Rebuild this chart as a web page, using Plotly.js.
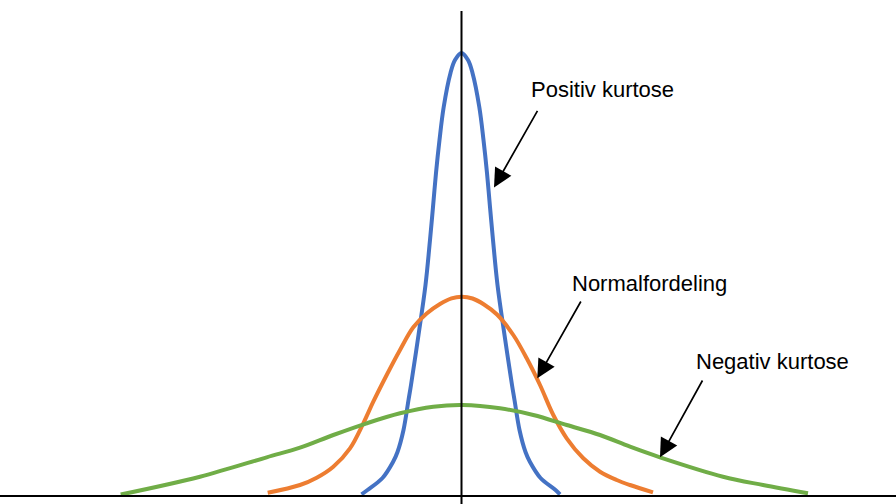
<!DOCTYPE html>
<html>
<head>
<meta charset="utf-8">
<script src="https://cdn.plot.ly/plotly-3.0.1.min.js"></script>
<style>
  html, body { margin: 0; padding: 0; background: #ffffff; }
  #chart { width: 896px; height: 504px; }
</style>
</head>
<body>
<div id="chart"></div>
<script>
// Positiv kurtose (blue)
var blueX = [-1.00, -0.94, -0.79, -0.685, -0.64, -0.58, -0.53, -0.505, -0.43, -0.36, -0.315, -0.285, -0.255, -0.22, -0.178, -0.11, -0.065, 0,
             0.065, 0.11, 0.178, 0.22, 0.255, 0.285, 0.315, 0.36, 0.43, 0.505, 0.53, 0.58, 0.64, 0.685, 0.79, 0.94, 0.985];
var blueY = [0.002, 0.045, 0.165, 0.325, 0.425, 0.645, 0.945, 1.095, 1.595, 2.095, 2.545, 2.875, 3.215, 3.545, 3.875, 4.215, 4.345, 4.415,
             4.345, 4.215, 3.875, 3.545, 3.215, 2.875, 2.545, 2.095, 1.595, 1.095, 0.945, 0.645, 0.425, 0.325, 0.165, 0.045, 0.002];

// Normalfordeling (orange)
var orangeX = [-1.938, -1.615, -1.448, -1.282, -1.115, -0.982, -0.882, -0.748, -0.615, -0.482, -0.348, -0.215, -0.10, 0.005,
               0.11, 0.225, 0.355, 0.518, 0.652, 0.785, 0.918, 1.052, 1.218, 1.385, 1.552, 1.685, 1.915];
var orangeY = [0.018, 0.095, 0.168, 0.278, 0.462, 0.712, 0.928, 1.195, 1.445, 1.672, 1.810, 1.905, 1.962, 1.978,
               1.960, 1.900, 1.800, 1.595, 1.362, 1.095, 0.795, 0.562, 0.362, 0.228, 0.145, 0.095, 0.022];

// Negativ kurtose (green)
var greenX = [-3.408, -2.615, -1.948, -1.615, -1.282, -0.948, -0.615, -0.282, 0.012,
              0.385, 0.718, 1.052, 1.385, 1.685, 1.985, 2.615, 3.015, 3.465];
var greenY = [0.0, 0.178, 0.372, 0.468, 0.595, 0.712, 0.812, 0.878, 0.895,
              0.862, 0.795, 0.695, 0.595, 0.478, 0.372, 0.178, 0.095, 0.012];

var labels = ["Positiv kurtose", "Normalfordeling", "Negativ kurtose"];

var font = {family: "Liberation Sans, Arial, Helvetica, sans-serif", size: 22, color: "#000000"};

var traces = [
  {x: blueX, y: blueY, mode: "lines", line: {color: "#4472C4", width: 4, shape: "spline", smoothing: 1}, hoverinfo: "skip"},
  {x: orangeX, y: orangeY, mode: "lines", line: {color: "#ED7D31", width: 4, shape: "spline", smoothing: 1}, hoverinfo: "skip"},
  {x: greenX, y: greenY, mode: "lines", line: {color: "#70AD47", width: 4, shape: "spline", smoothing: 1}, hoverinfo: "skip"}
];

function arrow(tx, ty, hx, hy) {
  return {x: hx, y: hy, ax: tx, ay: ty, xref: "x", yref: "y", axref: "x", ayref: "y",
          text: "", showarrow: true, arrowhead: 2, arrowsize: 2.2, arrowwidth: 1.7, arrowcolor: "#000000"};
}
function label(t, x, y) {
  return {x: x, y: y, xref: "x", yref: "y", text: t, showarrow: false,
          xanchor: "left", yanchor: "middle", font: font};
}

var layout = {
  width: 896, height: 504,
  margin: {l: 0, r: 0, t: 0, b: 0},
  paper_bgcolor: "#ffffff", plot_bgcolor: "#ffffff",
  showlegend: false,
  xaxis: {range: [-4.615, 4.345], showgrid: false, zeroline: false, showticklabels: false, showline: false, ticks: "", fixedrange: true},
  yaxis: {range: [-0.095, 4.945], showgrid: false, zeroline: false, showticklabels: false, showline: false, ticks: "", fixedrange: true},
  shapes: [
    {type: "line", xref: "paper", yref: "y", x0: 0, x1: 1, y0: -0.015, y1: -0.015, line: {color: "#000000", width: 2}, layer: "above"},
    {type: "line", xref: "x", yref: "y", x0: 0, x1: 0, y0: -0.095, y1: 4.835, line: {color: "#000000", width: 2}, layer: "above"}
  ],
  annotations: [
    label(labels[0], 0.672, 4.05),
    label(labels[1], 1.088, 2.115),
    label(labels[2], 2.322, 1.335),
    arrow(0.768, 3.852, 0.325, 3.07),
    arrow(1.202, 1.945, 0.758, 1.162),
    arrow(2.418, 1.155, 1.985, 0.372)
  ]
};

Plotly.newPlot("chart", traces, layout, {staticPlot: true, displayModeBar: false});
</script>
</body>
</html>
